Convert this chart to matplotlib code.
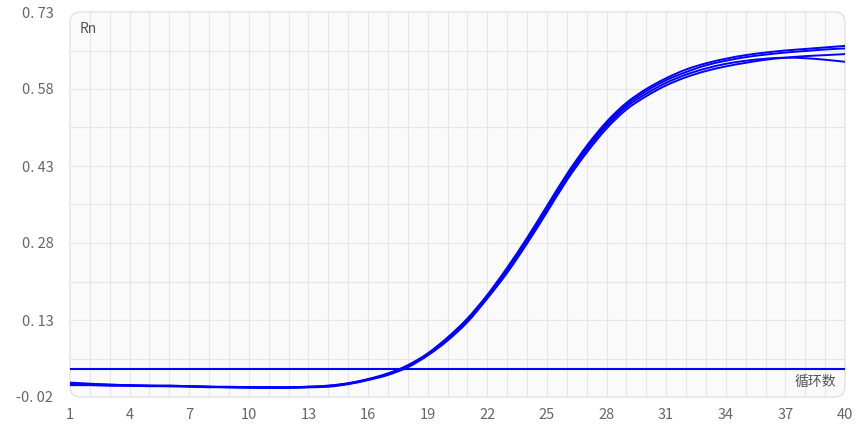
import matplotlib
matplotlib.use('Agg')
from matplotlib import pyplot as plt
from matplotlib.patches import FancyBboxPatch, PathPatch
from matplotlib.path import Path
import numpy as np

plt.rcParams['font.family'] = ['Noto Sans CJK SC', 'DejaVu Sans']

# amplification curves, Rn per cycle
cycles = list(range(1, 41))
curve_a = [0.008, 0.006, 0.004, 0.003, 0.002, 0.002, 0.001, 0.000, -0.001, -0.001,
           -0.001, -0.001, 0.000, 0.002, 0.007, 0.015, 0.026, 0.042, 0.065, 0.096,
           0.133, 0.179, 0.232, 0.290, 0.352, 0.414, 0.469, 0.516, 0.553, 0.580,
           0.601, 0.618, 0.630, 0.639, 0.646, 0.651, 0.655, 0.658, 0.661, 0.664]
curve_b = [0.005, 0.004, 0.003, 0.002, 0.002, 0.001, 0.001, 0.000, -0.001, -0.001,
           -0.002, -0.002, -0.001, 0.001, 0.006, 0.014, 0.024, 0.040, 0.063, 0.093,
           0.130, 0.176, 0.228, 0.286, 0.348, 0.410, 0.465, 0.512, 0.549, 0.576,
           0.597, 0.613, 0.626, 0.635, 0.642, 0.647, 0.651, 0.654, 0.657, 0.659]
curve_c = [0.003, 0.003, 0.002, 0.002, 0.001, 0.001, 0.000, -0.001, -0.001, -0.002,
           -0.002, -0.002, -0.001, 0.000, 0.005, 0.013, 0.023, 0.038, 0.061, 0.090,
           0.126, 0.172, 0.222, 0.279, 0.340, 0.402, 0.456, 0.503, 0.540, 0.566,
           0.587, 0.603, 0.615, 0.624, 0.631, 0.637, 0.641, 0.644, 0.646, 0.648]
curve_d = [0.006, 0.005, 0.004, 0.003, 0.002, 0.002, 0.001, 0.000, 0.000, -0.001,
           -0.001, -0.001, 0.000, 0.002, 0.006, 0.014, 0.025, 0.040, 0.062, 0.092,
           0.128, 0.174, 0.225, 0.283, 0.344, 0.406, 0.461, 0.508, 0.545, 0.571,
           0.592, 0.608, 0.620, 0.629, 0.635, 0.639, 0.641, 0.640, 0.637, 0.633]
threshold = 0.035

x_ticks = [1, 4, 7, 10, 13, 16, 19, 22, 25, 28, 31, 34, 37, 40]
y_ticks = [-0.02, 0.13, 0.28, 0.43, 0.58, 0.73]
y_labels = ['-0. 02', '0. 13', '0. 28', '0. 43', '0. 58', '0. 73']


def smooth_path(xs, ys):
    # cubic bezier through every data point (Catmull-Rom style handles)
    pts = np.column_stack([xs, ys]).astype(float)
    n = len(pts)
    verts = [pts[0]]
    codes = [Path.MOVETO]
    for i in range(n - 1):
        p0 = pts[max(i - 1, 0)]
        p1 = pts[i]
        p2 = pts[i + 1]
        p3 = pts[min(i + 2, n - 1)]
        c1 = p1 + (p2 - p0) / 6.0
        c2 = p2 - (p3 - p1) / 6.0
        verts += [c1, c2, p2]
        codes += [Path.CURVE4] * 3
    return Path(verts, codes)


W, H = 860, 430
fig = plt.figure(figsize=(W / 100, H / 100), dpi=100)
left, right, top, bottom = 70, 845, 12, 397
ax = fig.add_axes([left / W, (H - bottom) / H, (right - left) / W, (bottom - top) / H])

# rounded plot background
bg = FancyBboxPatch((left / W, (H - bottom) / H), (right - left) / W, (bottom - top) / H,
                    boxstyle='round,pad=0,rounding_size=0.012', mutation_aspect=W / H,
                    transform=fig.transFigure, facecolor='#fafafa', edgecolor='#e3e3e3',
                    linewidth=1, zorder=0, clip_on=False)
ax.add_patch(bg)
ax.patch.set_visible(False)
for s in ax.spines.values():
    s.set_visible(False)

ax.set_xlim(1, 40)
ax.set_ylim(-0.02, 0.73)

grid_col = '#e6e6e6'
for c in cycles[1:-1]:
    ax.axvline(c, color=grid_col, lw=0.8, zorder=1)
for v in np.arange(-0.02 + 0.075, 0.73 - 0.01, 0.075):
    ax.axhline(v, color=grid_col, lw=0.8, zorder=1)

for curve in [curve_a, curve_b, curve_c, curve_d]:
    ax.add_patch(PathPatch(smooth_path(cycles, curve), facecolor='none',
                           edgecolor='#0000ff', lw=1.4, zorder=3))
ax.axhline(threshold, color='#0000ff', lw=1.5, zorder=3)

ax.set_xticks(x_ticks)
ax.set_yticks(y_ticks)
ax.set_yticklabels(y_labels)
ax.tick_params(length=0, labelsize=10.5, labelcolor='#666666', pad=8)
ax.tick_params(axis='y', pad=12)

ax.text(0.012, 0.955, 'Rn', transform=ax.transAxes, fontsize=10, color='#555555',
        ha='left', va='center')
ax.text(0.988, 0.04, '循环数', transform=ax.transAxes, fontsize=10, color='#555555',
        ha='right', va='center')

fig.savefig('out.png', dpi=100)
